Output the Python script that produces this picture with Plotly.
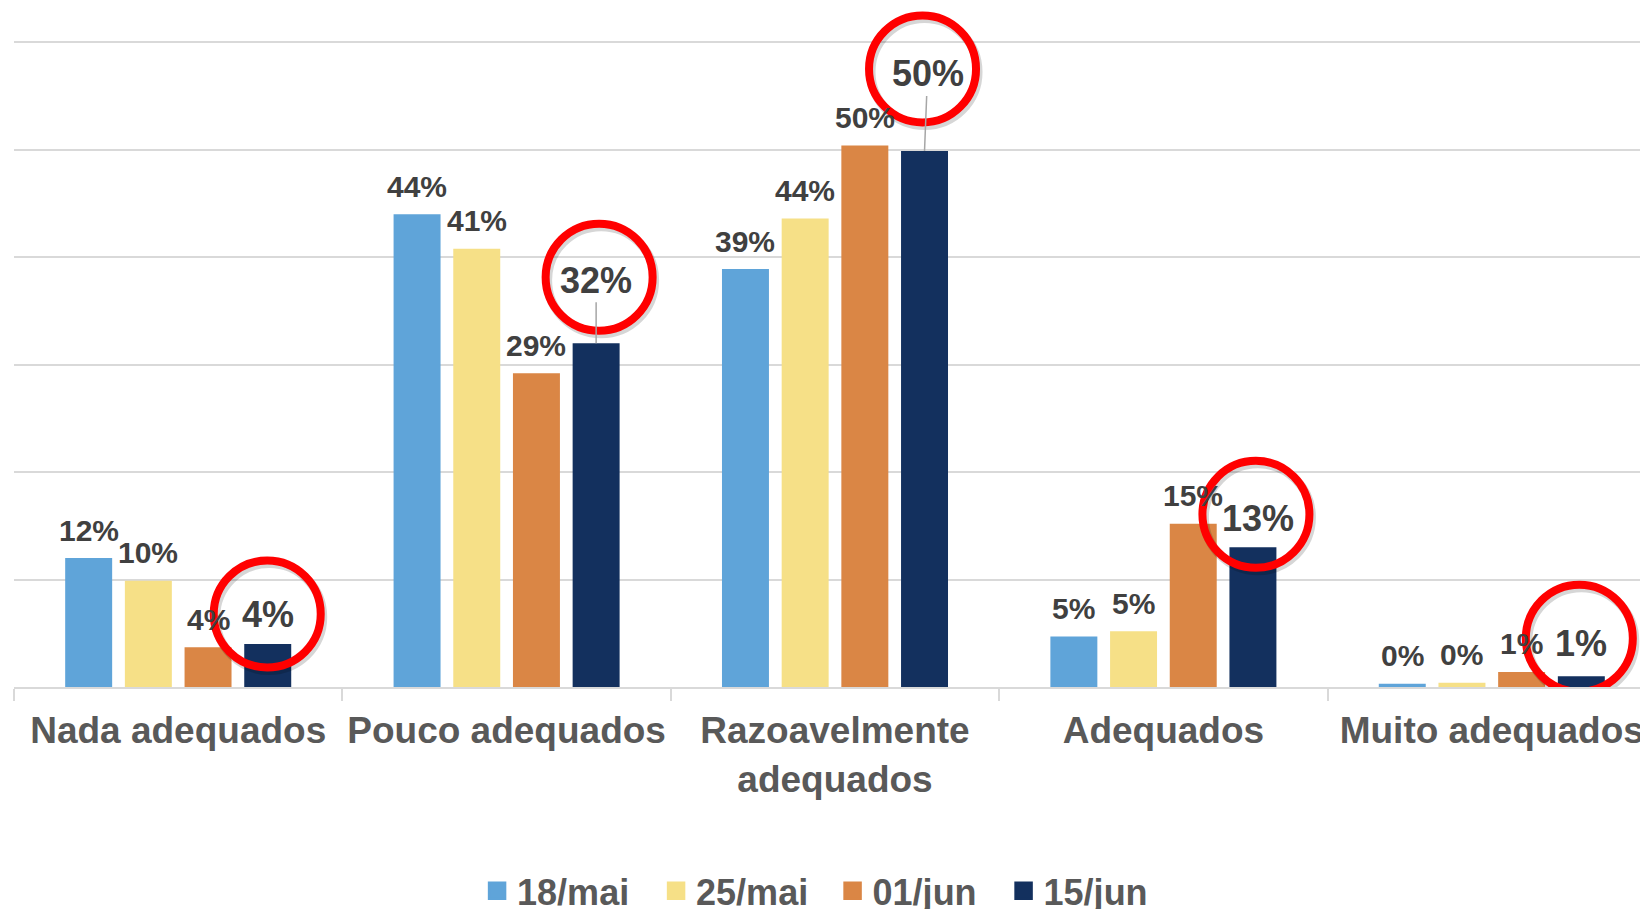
import plotly.graph_objects as go

# ---- data -------------------------------------------------------------
categories = ["Nada adequados", "Pouco adequados", "Razoavelmente<br>adequados",
              "Adequados", "Muito adequados"]
series_names = ["18/mai", "25/mai", "01/jun", "15/jun"]
v_18mai = [12.0, 44.0, 38.9, 4.7, 0.3]
v_25mai = [9.9, 40.8, 43.6, 5.2, 0.4]
v_01jun = [3.7, 29.2, 50.4, 15.2, 1.4]
v_15jun = [4.0, 32.0, 49.9, 13.0, 1.0]
series_values = [v_18mai, v_25mai, v_01jun, v_15jun]

# ---- styling ----------------------------------------------------------
colors = ["#5FA4D9", "#F6E087", "#DA8645", "#13305E"]
legend_widths = [134, 131.5, 126, 104]
FONT = "Liberation Sans, Arial, sans-serif"
LABEL_COLOR = "#404040"
AXIS_TEXT = "#595959"
GRID = "#D9D9D9"
BARGAP = 0.273
BARGROUPGAP = 0.213
SLOT = (1 - BARGAP) / len(series_names)

# highlighted (latest) series: label offsets and circle centres, in px
HL = 3
hl_label_dx = [0, 0, 3, 5, 0]
hl_label_dy = [30, 63, 77, 29, 33]
hl_leader = [False, True, True, False, False]
circle_dx = [-0.5, 3, -2, 3, -2]
circle_dy = [30, 66, 82, 33, 38]
R = 53.5


def bar_x(i, k):
    """Numeric category-axis position of bar k in group i."""
    return i + (k - (len(series_names) - 1) / 2) * SLOT


fig = go.Figure()

for k, (name, vals) in enumerate(zip(series_names, series_values)):
    fig.add_trace(go.Bar(
        x=categories, y=vals, name=name, showlegend=False,
        marker=dict(color=colors[k], line=dict(width=0)),
        hoverinfo="skip",
    ))

# legend entries with larger square swatches
for k, name in enumerate(series_names):
    fig.add_trace(go.Scatter(
        x=[None], y=[None], mode="markers", name=name,
        legendwidth=legend_widths[k],
        marker=dict(symbol="square", size=16, color=colors[k],
                    line=dict(color=colors[k], width=2.5)),
    ))

annotations = []
shapes = []
for k, vals in enumerate(series_values):
    for i, v in enumerate(vals):
        x = bar_x(i, k)
        txt = f"{v:.0f}%"
        if k != HL:
            annotations.append(dict(
                x=x, y=v, xref="x", yref="y", text=txt, showarrow=False,
                yanchor="middle", yshift=28,
                font=dict(family=FONT, size=30, color=LABEL_COLOR, weight="bold"),
            ))
        else:
            font = dict(family=FONT, size=36, color=LABEL_COLOR, weight="bold")
            if hl_leader[i]:
                annotations.append(dict(
                    x=x, y=v, xref="x", yref="y", text=txt, showarrow=True,
                    ax=hl_label_dx[i], ay=-hl_label_dy[i], arrowhead=0,
                    arrowwidth=1.5, arrowcolor="#A6A6A6", standoff=0,
                    font=font,
                ))
            else:
                annotations.append(dict(
                    x=x, y=v, xref="x", yref="y", text=txt, showarrow=False,
                    yanchor="middle", xshift=hl_label_dx[i], yshift=hl_label_dy[i],
                    font=font,
                ))
            cx, cy = circle_dx[i], circle_dy[i]
            # soft shadow then the red ring
            shapes.append(dict(
                type="circle", xref="x", yref="y", xsizemode="pixel", ysizemode="pixel",
                xanchor=x, yanchor=v,
                x0=cx - R + 2, x1=cx + R + 2, y0=cy - R - 3, y1=cy + R - 3,
                line=dict(color="rgba(0,0,0,0.16)", width=9),
            ))
            shapes.append(dict(
                type="circle", xref="x", yref="y", xsizemode="pixel", ysizemode="pixel",
                xanchor=x, yanchor=v,
                x0=cx - R, x1=cx + R, y0=cy - R, y1=cy + R,
                line=dict(color="#FF0000", width=8),
            ))

fig.update_layout(
    width=1640, height=909,
    margin=dict(l=14, r=0, t=0, b=221.5, autoexpand=False),
    paper_bgcolor="white", plot_bgcolor="white",
    barmode="group", bargap=BARGAP, bargroupgap=BARGROUPGAP,
    font=dict(family=FONT),
    xaxis=dict(
        type="category", range=[-0.5, 4.4513], showgrid=False,
        showline=True, linecolor=GRID, linewidth=2,
        ticks="outside", tickson="boundaries", ticklen=12, tickwidth=2, tickcolor=GRID,
        tickangle=0, automargin=False, ticklabelstandoff=10,
        tickfont=dict(family=FONT, size=37, color=AXIS_TEXT, weight="bold"),
    ),
    yaxis=dict(
        range=[0, 63.95], dtick=10, tick0=0, showgrid=True, gridcolor=GRID, gridwidth=2,
        showticklabels=False, zeroline=False, showline=False, automargin=False,
    ),
    legend=dict(
        orientation="h", xref="container", yref="container",
        x=0.497, xanchor="center", y=0.02, yanchor="middle",
        font=dict(family=FONT, size=36, color=AXIS_TEXT, weight="bold"),
        bgcolor="rgba(0,0,0,0)", traceorder="normal",
    ),
    annotations=annotations,
    shapes=shapes,
    showlegend=True,
)

fig.write_html("out.html")
